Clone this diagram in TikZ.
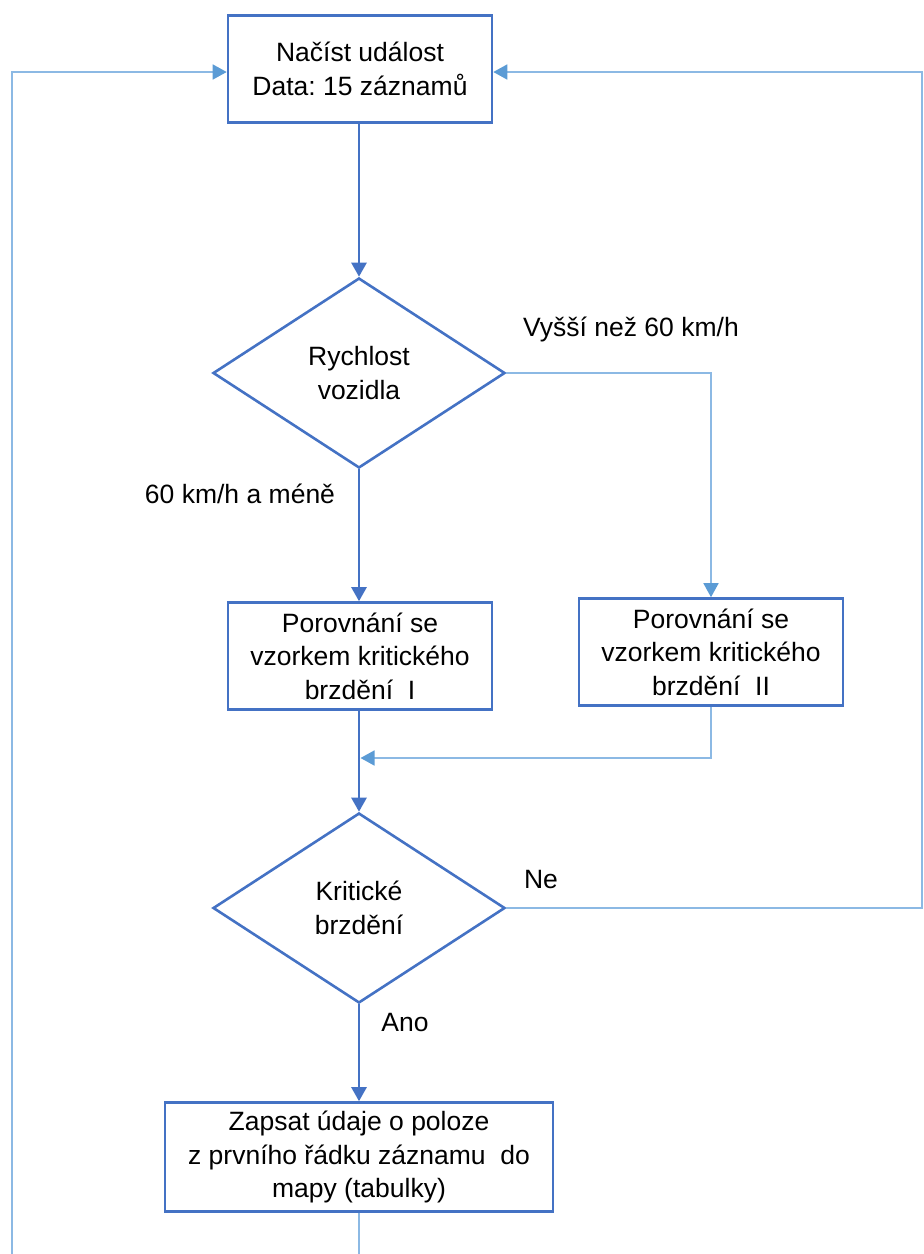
\documentclass[tikz,border=0pt]{standalone}
\usepackage{fontspec}
\setmainfont{Liberation Sans}
\usetikzlibrary{shapes.geometric,arrows.meta,positioning,calc}
\definecolor{boxblue}{RGB}{68,114,196}
\definecolor{lineblue}{RGB}{91,155,213}
\definecolor{thinblue}{RGB}{140,185,228}
\frenchspacing

\tikzset{
  box/.style={draw=boxblue, line width=2.6pt, rectangle, align=center, inner sep=0pt,
    minimum width=264pt, minimum height=107pt, font=\fontsize{26.5}{33.5}\selectfont},
  decision/.style={draw=boxblue, line width=2.6pt, diamond, aspect=1.54, align=center,
    inner sep=0pt, minimum width=292pt, minimum height=190pt, font=\fontsize{26.5}{33.5}\selectfont},
  flowline/.style={draw=boxblue, line width=2.6pt, -{Triangle[width=15pt,length=14pt]}},
  flowthin/.style={draw=thinblue, line width=1.6pt, -{Triangle[width=15pt,length=14pt,fill=lineblue,color=lineblue]}},
  plainthin/.style={draw=thinblue, line width=1.6pt},
  lbl/.style={font=\fontsize{26.5}{33.5}\selectfont, inner sep=0pt}
}

\begin{document}
\begin{tikzpicture}[x=1pt,y=-1pt]
  \useasboundingbox (0,0) rectangle (924,1254);
  % nodes
  \node[box] (nacist) at (360,69) {Načíst událost\\Data: 15 záznamů};
  \node[decision] (rychlost) at (359,373) {Rychlost\\vozidla};
  \node[box] (porI) at (360,656) {Porovnání se\\vzorkem kritického\\brzdění\ \ I};
  \node[box] (porII) at (711,652) {Porovnání se\\vzorkem kritického\\brzdění\ \ II};
  \node[decision] (kriticke) at (359,908) {Kritické\\brzdění};
  \node[box, minimum width=388pt, minimum height=109pt] (zapsat) at (359,1157) {Zapsat údaje o poloze\\z prvního řádku záznamu\ \ do\\mapy\ (tabulky)};
  % labels
  \node[lbl] (vyssi) at (631,329) {Vyšší než 60 km/h};
  \node[lbl] (mene) at (240,494) {60 km/h a méně};
  \node[lbl] (ne) at (541,880) {Ne};
  \node[lbl] (ano) at (405,1022) {Ano};
  % helper points
  \coordinate (joinI) at (359,758);
  \coordinate (outB) at (359,1254);
  \coordinate (outL) at (12,1254);
  \coordinate (backL) at (12,72);
  \coordinate (backR) at (922,72);
  \coordinate (neR) at (922,908);
  % connectors
  \draw[flowline] (nacist.south -| rychlost.north) -- (rychlost.north);
  \draw[flowline] (rychlost.south) -- (rychlost.south |- porI.north);
  \draw[flowthin] (rychlost.east) -| (porII.north);
  \draw[flowline] (porI.south -| kriticke.north) -- (kriticke.north);
  \draw[flowthin] (porII.south) |- ([xshift=1.5pt]joinI);
  \draw[flowline] (kriticke.south) -- (zapsat.north);
  \draw[plainthin] (zapsat.south) -- (outB);
  \draw[flowthin] (outL) -- (backL) -- (backL -| nacist.west);
  \draw[flowthin] (kriticke.east) -- (neR) -- (backR) -- (backR -| nacist.east);
\end{tikzpicture}
\end{document}
